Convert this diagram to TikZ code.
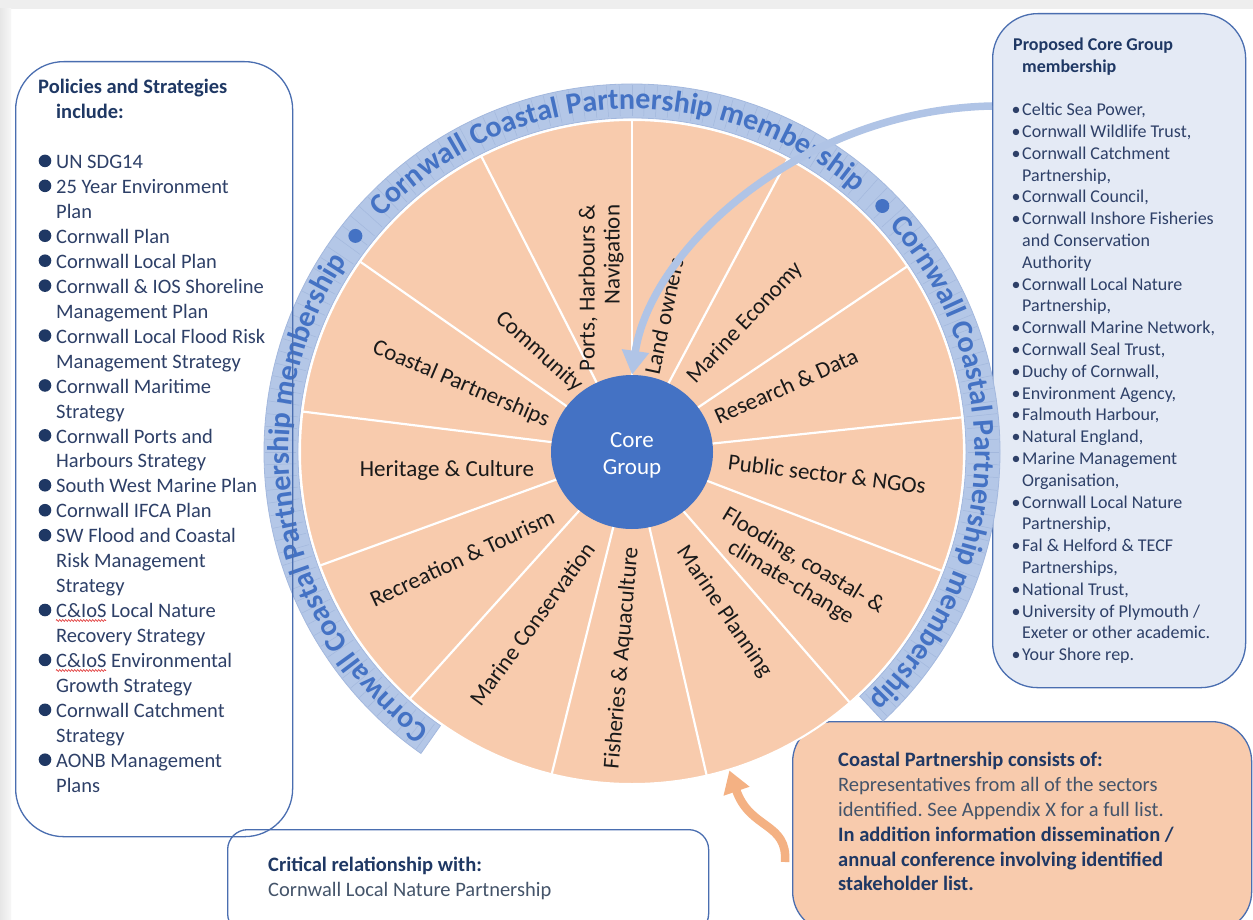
\documentclass[tikz,border=0pt]{standalone}
\usepackage{fontspec}
\setmainfont{Carlito}
\usetikzlibrary{arrows.meta,shapes.geometric,calc,decorations.text,decorations.pathmorphing}
\frenchspacing

\definecolor{peach}{HTML}{F8CBAD}
\definecolor{coreblue}{HTML}{4472C4}
\definecolor{bandblue}{HTML}{B4C7E7}
\definecolor{bandedge}{HTML}{A3B8DE}
\definecolor{bandrib}{HTML}{9CB2D9}
\definecolor{bandtext}{HTML}{4472C4}
\definecolor{boxline}{HTML}{4A6EB0}
\definecolor{navy}{HTML}{1F3864}
\definecolor{listtext}{HTML}{2E4068}
\definecolor{greytext}{HTML}{44546A}
\definecolor{paleblue}{HTML}{E4EAF5}
\definecolor{arrowblue}{HTML}{B0C4E6}
\definecolor{arroworange}{HTML}{F4B183}
\definecolor{labeltext}{HTML}{1A1A1A}
\definecolor{stripgrey}{HTML}{EEEEEE}
\definecolor{stripdark}{HTML}{E6E6E6}
\definecolor{striplight}{HTML}{F7F7F7}
\definecolor{spellred}{HTML}{E03030}

\newcommand\sectorfont{\fontsize{23}{25}\selectfont}
\newcommand\corefont{\fontsize{23}{27}\selectfont}
\newcommand\policyfont{\fontsize{20.5}{24.95}\selectfont}
\newcommand\memberfont{\fontsize{18}{21.8}\selectfont}
\newcommand\ringfont{\fontsize{30}{30}\selectfont\bfseries}
\newcommand\navyhead[1]{\textbf{\color{navy}#1}}
\newcommand\indentline{\hspace*{18pt}}
\newcommand\memberitem{\hspace*{9pt}\llap{•\hspace{1.5pt}}}
\newcommand\membercont{\hspace*{9pt}}

\tikzset{
  sector/.style={font=\sectorfont, text=labeltext, align=center, inner sep=0pt},
  divider/.style={draw=white, line width=2.2pt},
  panel/.style={draw=boxline, line width=1.3pt, rounded corners=#1, inner sep=0pt, anchor=north west},
  paneltext/.style={anchor=north west, inner sep=0pt, align=left},
  rib/.style={draw=bandrib, line width=0.5pt, opacity=0.7},
  ringtext/.style={decorate, decoration={text along path, text align=center,
      text color=bandtext, text={|\ringfont|#1}}},
  feedblue/.style={draw=arrowblue, line width=7.5pt, -{Triangle[width=26pt,length=24pt]}},
  feedorange/.style={draw=arroworange, line width=8.5pt, -{Triangle[width=26pt,length=22pt]}},
  spell/.style={draw=spellred, line width=0.6pt, decorate,
      decoration={zigzag, segment length=3pt, amplitude=0.9pt}},
}

\begin{document}
\begin{tikzpicture}[x=1pt,y=1pt]
\useasboundingbox (0,0) rectangle (1253,-920);
\fill[white] (0,0) rectangle (1253,-920);
\fill[stripgrey] (0,0) rectangle (1253,-9);
\shade[left color=stripdark, right color=striplight] (0,-9) rectangle (11,-920);

\coordinate (C) at (632,-452);

% panels lying under the ring
\node[panel=45pt, fill=paleblue, minimum width=253pt, minimum height=674pt] (members) at (992,-13) {};
\node[panel=40pt, fill=peach, minimum width=459pt, minimum height=210pt] (consists) at (792,-721) {};

% membership ring
\filldraw[fill=bandblue, draw=bandedge, line width=0.8pt]
  ($(C)+(235:334)$) arc[start angle=235, end angle=-47, radius=334]
  -- ($(C)+(-47:368)$) arc[start angle=-47, end angle=235, radius=368] -- cycle;
\foreach \a in {-46,-44,...,234}
  \draw[rib] ($(C)+(\a:336)$) -- ($(C)+(\a:367)$);
\path[ringtext={Cornwall Coastal Partnership membership}]
  ($(C)+(236:343)$) arc[start angle=236, end angle=144, radius=343];
\path[ringtext={Cornwall Coastal Partnership membership}]
  ($(C)+(140:343)$) arc[start angle=140, end angle=46, radius=343];
\path[ringtext={Cornwall Coastal Partnership membership}]
  ($(C)+(43:343)$) arc[start angle=43, end angle=-48, radius=343];
\fill[bandtext] ($(C)+(142:351)$) circle[radius=7];
\fill[bandtext] ($(C)+(44.5:351)$) circle[radius=7];

% sector wheel and core group
\node[circle, fill=peach, draw=white, line width=2pt, minimum size=664pt, inner sep=0pt] (wheel) at (C) {};
\node[ellipse, fill=coreblue, minimum width=162pt, minimum height=154pt, inner sep=0pt,
      text=white, font=\corefont, align=center] (core) at (C) {\rule{0pt}{21pt}Core\\Group};
\foreach \k in {0,...,12}{
  \pgfmathsetmacro\ang{90+\k*360/13}
  \draw[divider] (core.\ang) -- (wheel.\ang);
}

% sector names
\node[sector, rotate=90, align=right] (ports) at (601,-288) {Ports, Harbours \&\\Navigation};
\node[sector, rotate=78] (land) at (664,-316) {Land owners};
\node[sector, rotate=47] (economy) at (745,-323) {Marine Economy};
\node[sector, rotate=24] (research) at (786,-386) {Research \& Data};
\node[sector, rotate=-7] (public) at (827,-474) {Public sector \& NGOs};
\node[sector, rotate=-31] (flooding) at (797,-572) {Flooding, coastal- \&\\climate-change};
\node[sector, rotate=-56] (planning) at (724,-612) {Marine Planning};
\node[sector, rotate=85] (fisheries) at (622,-658) {Fisheries \& Aquaculture};
\node[sector, rotate=54] (conservation) at (532,-624) {Marine Conservation};
\node[sector, rotate=25] (recreation) at (462,-558) {Recreation \& Tourism};
\node[sector] (heritage) at (447,-470) {Heritage \& Culture};
\node[sector, rotate=-23] (coastal) at (461,-384) {Coastal Partnerships};
\node[sector, rotate=-42] (community) at (539,-352) {Community};

% panels drawn over the ring
\node[panel=48pt, minimum width=277pt, minimum height=775pt] (policies) at (15,-61) {};
\node[panel=20pt, minimum width=481pt, minimum height=104pt] (critical) at (227,-829) {};

% policies and strategies list
\node[paneltext, font=\policyfont, text=listtext] (policytext) at (38,-76.5) {%
  \rule{0pt}{17pt}\navyhead{Policies and Strategies}\\
  \indentline\navyhead{include:}\\[24.95pt]
  \indentline UN SDG14\\
  \indentline 25 Year Environment\\
  \indentline Plan\\
  \indentline Cornwall Plan\\
  \indentline Cornwall Local Plan\\
  \indentline Cornwall \& IOS Shoreline\\
  \indentline Management Plan\\
  \indentline Cornwall Local Flood Risk\\
  \indentline Management Strategy\\
  \indentline Cornwall Maritime\\
  \indentline Strategy\\
  \indentline Cornwall Ports and\\
  \indentline Harbours Strategy\\
  \indentline South West Marine Plan\\
  \indentline Cornwall IFCA Plan\\
  \indentline SW Flood and Coastal\\
  \indentline Risk Management\\
  \indentline Strategy\\
  \indentline C\&IoS Local Nature\\
  \indentline Recovery Strategy\\
  \indentline C\&IoS Environmental\\
  \indentline Growth Strategy\\
  \indentline Cornwall Catchment\\
  \indentline Strategy\\
  \indentline AONB Management\\
  \indentline Plans};
\foreach \k in {1,2,4,5,6,8,10,12,14,15,16,19,21,23,25}
  \fill[navy] (45,{-(167.5+(\k-1)*24.95-6.6)}) circle[radius=6.3];
\draw[spell] (56,-620.5) -- (106,-620.5);
\draw[spell] (56,-670.5) -- (106,-670.5);

% proposed core group membership list
\node[paneltext, font=\memberfont, text=listtext] (membertext) at (1013,-34) {%
  \rule{0pt}{16pt}\navyhead{Proposed Core Group}\\
  \membercont\navyhead{membership}\\[21.8pt]
  \memberitem Celtic Sea Power,\\
  \memberitem Cornwall Wildlife Trust,\\
  \memberitem Cornwall Catchment\\
  \membercont Partnership,\\
  \memberitem Cornwall Council,\\
  \memberitem Cornwall Inshore Fisheries\\
  \membercont and Conservation\\
  \membercont Authority\\
  \memberitem Cornwall Local Nature\\
  \membercont Partnership,\\
  \memberitem Cornwall Marine Network,\\
  \memberitem Cornwall Seal Trust,\\
  \memberitem Duchy of Cornwall,\\
  \memberitem Environment Agency,\\
  \memberitem Falmouth Harbour,\\
  \memberitem Natural England,\\
  \memberitem Marine Management\\
  \membercont Organisation,\\
  \memberitem Cornwall Local Nature\\
  \membercont Partnership,\\
  \memberitem Fal \& Helford \& TECF\\
  \membercont Partnerships,\\
  \memberitem National Trust,\\
  \memberitem University of Plymouth /\\
  \membercont Exeter or other academic.\\
  \memberitem Your Shore rep.};

% critical relationship
\node[paneltext, font=\policyfont, text=greytext] (criticaltext) at (268,-854) {%
  \rule{0pt}{17pt}\navyhead{Critical relationship with:}\\
  Cornwall Local Nature Partnership};

% coastal partnership composition
\node[paneltext, font=\policyfont, text=greytext] (consiststext) at (838,-749) {%
  \rule{0pt}{17pt}\navyhead{Coastal Partnership consists of:}\\
  Representatives from all of the sectors\\
  identified. See Appendix X for a full list.\\
  \navyhead{In addition information dissemination /}\\
  \navyhead{annual conference involving identified}\\
  \navyhead{stakeholder list.}};

% connectors
\coordinate (memberfeed) at (992,-106);
\draw[feedblue] (memberfeed) .. controls (800,-110) and (650,-250) .. (core.north);
\coordinate (consistsfeed) at (785,-862);
\draw[feedorange] (consistsfeed) .. controls (788,-822) and (750,-830) .. (wheel.-73);
\end{tikzpicture}
\end{document}
